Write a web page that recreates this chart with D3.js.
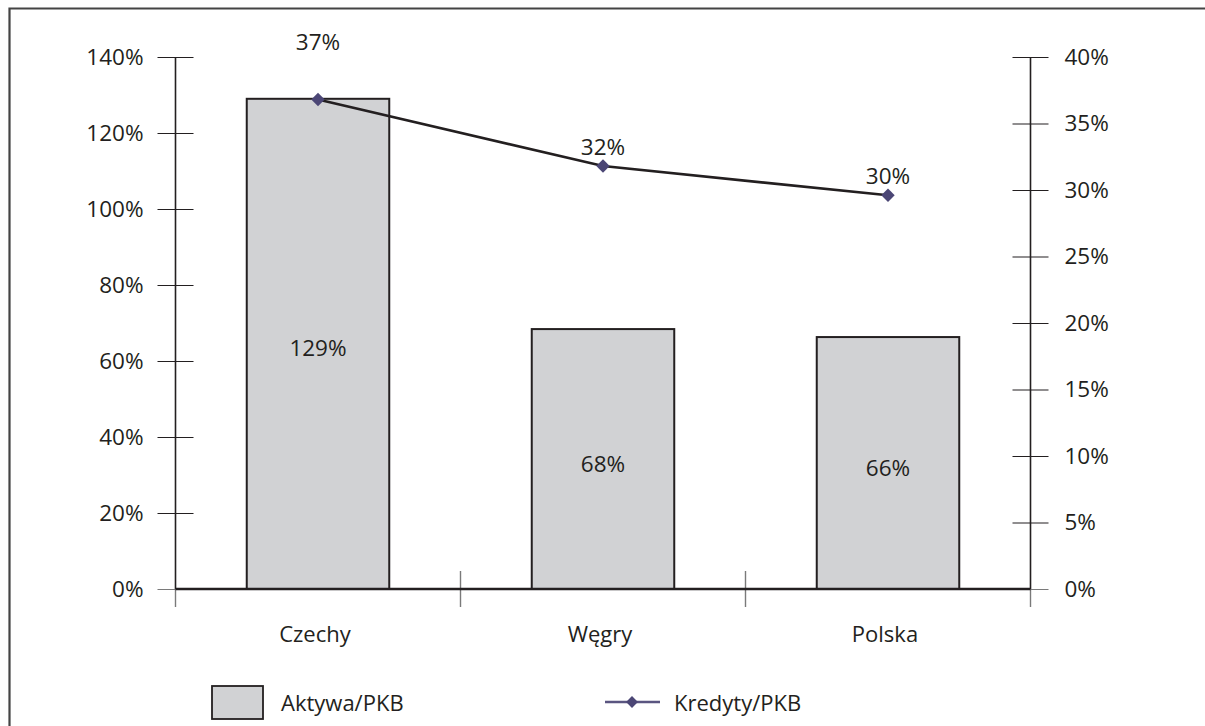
<!DOCTYPE html>
<html>
<head>
<meta charset="utf-8">
<script src="https://cdn.jsdelivr.net/npm/d3@7"></script>
<style>
  html, body { margin: 0; padding: 0; background: #fff; }
  svg { display: block; }
  text { font-family: "Open Sans", "Noto Sans", sans-serif; fill: #231f20; }
</style>
</head>
<body>
<svg id="chart" width="1205" height="726"></svg>
<script>
// Categories and series
const categories = ["Czechy", "Węgry", "Polska"];
const aktywaPKB = [129, 68.4, 66.3];      // left axis, %
const kredytyPKB = [36.8, 31.8, 29.6];    // right axis, %
const leftTicks = [0, 20, 40, 60, 80, 100, 120, 140];
const rightTicks = [0, 5, 10, 15, 20, 25, 30, 35, 40];
const seriesNames = ["Aktywa/PKB", "Kredyty/PKB"];

const svg = d3.select("#chart");
const W = 1205, H = 726;
const ink = "#231f20", tickGrey = "#7a7a7a", barFill = "#d1d2d4", markerFill = "#4b4675";
const numSize = 22.5, wordSize = 22;

// outer frame (top and left edges visible)
svg.append("path")
  .attr("d", `M9.5,${H} V8.5 H${W}`)
  .attr("fill", "none").attr("stroke", "#444").attr("stroke-width", 2.2);

const x0 = 175.5, x1 = 1030.5, yBase = 589, yTop = 57;

const x = d3.scaleBand().domain(categories).range([x0, x1])
  .paddingInner(0.5).paddingOuter(0.25);
const xBand = d3.scaleBand().domain(categories).range([x0, x1]).padding(0);
const yL = d3.scaleLinear().domain([0, 140]).range([yBase, yTop]);
const yR = d3.scaleLinear().domain([0, 40]).range([yBase, yTop]);

const pct = d => d3.format(".0f")(d) + "%";

// left axis
const gL = svg.append("g").attr("transform", `translate(${x0},0)`)
  .call(d3.axisLeft(yL).tickValues(leftTicks).tickSize(18).tickPadding(14).tickFormat(pct));
gL.select(".domain").remove();
gL.selectAll(".tick line").attr("x1", 18).attr("stroke", ink).attr("stroke-width", 1.2);
gL.selectAll(".tick text").style("font-size", numSize + "px")
  .attr("fill", ink).style("font-family", "'Open Sans', sans-serif");

// right axis
const gR = svg.append("g").attr("transform", `translate(${x1},0)`)
  .call(d3.axisRight(yR).tickValues(rightTicks).tickSize(18).tickPadding(16).tickFormat(pct));
gR.select(".domain").remove();
gR.selectAll(".tick line").attr("x1", -18).attr("stroke", ink).attr("stroke-width", 1.2);
gR.selectAll(".tick text").style("font-size", numSize + "px")
  .attr("fill", ink).style("font-family", "'Open Sans', sans-serif");

// zero ticks are lighter
gL.selectAll(".tick").filter(d => d === 0).select("line").attr("stroke", tickGrey);
gR.selectAll(".tick").filter(d => d === 0).select("line").attr("stroke", tickGrey);

// vertical axis lines
[x0, x1].forEach(xx => {
  svg.append("line").attr("x1", xx).attr("x2", xx).attr("y1", yTop).attr("y2", yBase)
    .attr("stroke", ink).attr("stroke-width", 1.6);
  svg.append("line").attr("x1", xx).attr("x2", xx).attr("y1", yBase).attr("y2", yBase + 18)
    .attr("stroke", tickGrey).attr("stroke-width", 1.4);
});

// category dividers
categories.slice(1).forEach(c => {
  const xx = xBand(c);
  svg.append("line").attr("x1", xx).attr("x2", xx).attr("y1", yBase - 18).attr("y2", yBase + 18)
    .attr("stroke", tickGrey).attr("stroke-width", 1.4);
});

// bars
svg.append("g").selectAll("rect").data(aktywaPKB).join("rect")
  .attr("x", (d, i) => x(categories[i]))
  .attr("y", d => yL(d))
  .attr("width", x.bandwidth())
  .attr("height", d => yBase - yL(d))
  .attr("fill", barFill).attr("stroke", ink).attr("stroke-width", 2);

// baseline
svg.append("line").attr("x1", x0).attr("x2", x1).attr("y1", yBase).attr("y2", yBase)
  .attr("stroke", ink).attr("stroke-width", 2.4);

// bar value labels
svg.append("g").selectAll("text").data(aktywaPKB).join("text")
  .attr("x", (d, i) => x(categories[i]) + x.bandwidth() / 2)
  .attr("y", d => (yL(d) + yBase) / 2 + 4)
  .attr("text-anchor", "middle").attr("dominant-baseline", "central")
  .style("font-size", numSize + "px")
  .text(d => pct(d));

// category labels
svg.append("g").selectAll("text").data(categories).join("text")
  .attr("x", c => x(c) + x.bandwidth() / 2 - 3)
  .attr("y", 633)
  .attr("text-anchor", "middle").attr("dominant-baseline", "central")
  .style("font-size", wordSize + "px")
  .text(c => c);

// line series
const cx = i => x(categories[i]) + x.bandwidth() / 2;
const line = d3.line().x((d, i) => cx(i)).y(d => yR(d));
svg.append("path").datum(kredytyPKB).attr("d", line)
  .attr("fill", "none").attr("stroke", ink).attr("stroke-width", 2.6);

// diamond markers: squares turned 45 degrees
const marker = d3.symbol().type(d3.symbolSquare).size(90);
svg.append("g").selectAll("path").data(kredytyPKB).join("path")
  .attr("transform", (d, i) => `translate(${cx(i)},${yR(d)}) rotate(45)`)
  .attr("d", marker).attr("fill", markerFill);

// line value labels; the first one sits above the bar top
svg.append("g").selectAll("text").data(kredytyPKB).join("text")
  .attr("x", (d, i) => cx(i))
  .attr("y", (d, i) => yR(d) - (i === 0 ? 58 : 20))
  .attr("text-anchor", "middle").attr("dominant-baseline", "central")
  .style("font-size", numSize + "px")
  .text(d => pct(d));

// legend
const lg = svg.append("g");
lg.append("rect").attr("x", 212).attr("y", 686).attr("width", 51).attr("height", 33)
  .attr("fill", barFill).attr("stroke", ink).attr("stroke-width", 1.8);
lg.append("text").attr("x", 281).attr("y", 702).attr("dominant-baseline", "central")
  .style("font-size", wordSize + "px").text(seriesNames[0]);
lg.append("line").attr("x1", 605).attr("x2", 660).attr("y1", 702).attr("y2", 702)
  .attr("stroke", "#5a5580").attr("stroke-width", 2.4);
lg.append("path").attr("transform", "translate(632,702) rotate(45)")
  .attr("d", d3.symbol().type(d3.symbolSquare).size(70)).attr("fill", markerFill);
lg.append("text").attr("x", 674).attr("y", 702).attr("dominant-baseline", "central")
  .style("font-size", wordSize + "px").text(seriesNames[1]);
</script>
</body>
</html>
